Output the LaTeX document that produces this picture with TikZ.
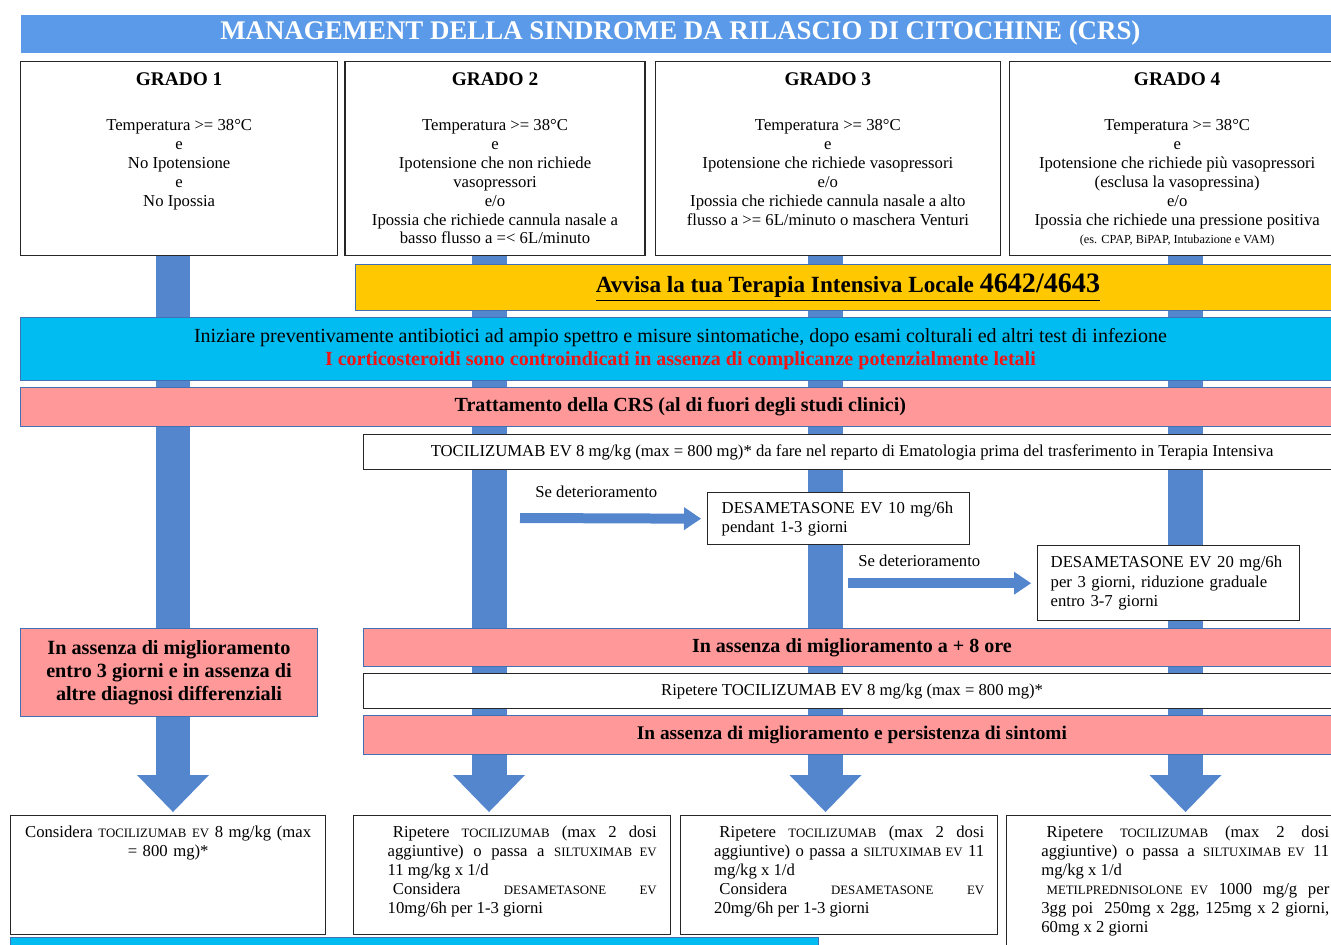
\documentclass[tikz,border=0pt]{standalone}
\usepackage{fontspec}
\setmainfont{Liberation Serif}
\usetikzlibrary{
    arrows.meta,
    positioning,
    backgrounds
}

\definecolor{titolo}{RGB}{91,154,232}
\definecolor{freccia}{RGB}{84,134,206}
\definecolor{bordo}{RGB}{65,113,180}
\definecolor{giallo}{RGB}{255,200,0}
\definecolor{ciano}{RGB}{0,188,240}
\definecolor{rosa}{RGB}{255,153,153}
\definecolor{rosso}{RGB}{240,20,20}

% drug names are set a bit smaller
\newcommand{\farmaco}[1]{{\fontsize{7.3}{8}\selectfont #1}}

\begin{document}
\begin{tikzpicture}[
        x=0.02cm, y=-0.02cm,
        fascia/.style={draw=bordo, line width=0.6pt, fill=#1, anchor=north west, inner sep=0pt, align=center},
        grado/.style={draw=black!85, line width=0.8pt, fill=white, minimum width=#1, minimum height=3.88cm},
        testo/.style={inner sep=0pt, align=center, font=\fontsize{9.5}{10.8}\selectfont},
        casella/.style={draw=black!85, line width=0.8pt, fill=white, anchor=north west, inner sep=0pt, minimum width=#1, font=\fontsize{9.5}{11}\selectfont},
        colonna/.style={draw=freccia, line width=0.7cm, -{Triangle[width=1.44cm, length=0.74cm, line width=0pt]}, shorten >=0.06cm},
        laterale/.style={draw=freccia, line width=0.2cm, -{Triangle[width=0.46cm, length=0.34cm, line width=0pt]}, shorten >=0.12cm}
    ]
        \useasboundingbox (0,0) rectangle (1331,944);
        \clip (0,0) rectangle (1331,944);

        % Title
        \node[fascia=titolo, draw=none, minimum width=26.4cm, minimum height=0.76cm, text=white, font=\bfseries\fontsize{15.3}{18}\selectfont] (titolo) at (20,14) {MANAGEMENT DELLA SINDROME DA RILASCIO DI CITOCHINE (CRS)};

        % Grades
        \node[grado=6.34cm, anchor=north west] (g1) at (20,61) {};
        \node[grado=6.0cm, right=0.12cm of g1] (g2) {};
        \node[grado=6.9cm, right=0.18cm of g2] (g3) {};
        \node[grado=6.7cm, right=0.16cm of g3] (g4) {};

        \node[testo, below=0.22cm of g1.north] (t1) {{\bfseries\fontsize{11}{13}\selectfont GRADO 1}\\[0.52cm]
            Temperatura >= 38°C\\e\\No Ipotensione\\e\\No Ipossia};
        \node[testo, below=0.22cm of g2.north] (t2) {{\bfseries\fontsize{11}{13}\selectfont GRADO 2}\\[0.52cm]
            Temperatura >= 38°C\\e\\Ipotensione che non richiede\\vasopressori\\e/o\\Ipossia che richiede cannula nasale a\\basso flusso a =< 6L/minuto};
        \node[testo, below=0.22cm of g3.north] (t3) {{\bfseries\fontsize{11}{13}\selectfont GRADO 3}\\[0.52cm]
            Temperatura >= 38°C\\e\\Ipotensione che richiede vasopressori\\e/o\\Ipossia che richiede cannula nasale a alto\\flusso a >= 6L/minuto o maschera Venturi};
        \node[testo, below=0.22cm of g4.north] (t4) {{\bfseries\fontsize{11}{13}\selectfont GRADO 4}\\[0.52cm]
            Temperatura >= 38°C\\e\\Ipotensione che richiede più vasopressori\\(esclusa la vasopressina)\\e/o\\Ipossia che richiede una pressione positiva\\
            {\fontsize{7}{8}\selectfont (es. CPAP, BiPAP, Intubazione e VAM)}};

        % Bands across the columns
        \node[fascia=giallo, minimum width=19.7cm, minimum height=0.92cm, font=\bfseries\fontsize{13.2}{15}\selectfont] (avviso) at (355,264)
            {\underline{Avvisa la tua Terapia Intensiva Locale {\fontsize{16}{18}\selectfont 4642/4643}}};
        \node[fascia=ciano, minimum width=26.4cm, minimum height=1.26cm, font=\fontsize{11.4}{13.6}\selectfont] (profilassi) at (20,317)
            {Iniziare preventivamente antibiotici ad ampio spettro e misure sintomatiche, dopo esami colturali ed altri test di infezione\\
            \textcolor{rosso}{\bfseries I corticosteroidi sono controindicati in assenza di complicanze potenzialmente letali}};
        \node[fascia=rosa, minimum width=26.4cm, minimum height=0.78cm, font=\bfseries\fontsize{11.4}{13}\selectfont] (trattamento) at (20,387)
            {Trattamento della CRS (al di fuori degli studi clinici)};
        \node[casella=19.54cm, minimum height=0.7cm] (toci) at (363,434)
            {TOCILIZUMAB EV 8 mg/kg (max = 800 mg)* da fare nel reparto di Ematologia prima del trasferimento in Terapia Intensiva};

        % Escalation with dexamethasone
        \node[casella=5.24cm, minimum height=1.04cm, text width=4.68cm, align=left, inner xsep=0.28cm] (desa1) at (707,492)
            {DESAMETASONE EV 10 mg/6h\\pendant 1-3 giorni};
        \node[casella=5.24cm, minimum height=1.5cm, text width=4.72cm, align=left, inner xsep=0.26cm] (desa2) at (1037,545)
            {DESAMETASONE EV 20 mg/6h\\per 3 giorni, riduzione graduale\\entro 3-7 giorni};
        \coordinate (d1) at (520,518);
        \coordinate (d2) at (848,0);
        \draw[laterale] (d1) -- (desa1.west);
        \draw[laterale] (d2 |- desa2.west) -- (desa2.west);
        \node[testo, anchor=west] (se1) at (535,492) {Se deterioramento};
        \node[testo, anchor=west] (se2) at (858,561) {Se deterioramento};

        % No improvement
        \node[fascia=rosa, minimum width=5.94cm, minimum height=1.76cm, font=\bfseries\fontsize{11.5}{13}\selectfont] (tregiorni) at (20,628)
            {In assenza di miglioramento\\entro 3 giorni e in assenza di\\altre diagnosi differenziali};
        \node[fascia=rosa, minimum width=19.54cm, minimum height=0.76cm, font=\bfseries\fontsize{11.4}{13}\selectfont] (ottore) at (363,628)
            {In assenza di miglioramento a + 8 ore};
        \node[casella=19.54cm, minimum height=0.7cm] (ripeti) at (363,673)
            {Ripetere TOCILIZUMAB EV 8 mg/kg (max = 800 mg)*};
        \node[fascia=rosa, minimum width=19.54cm, minimum height=0.78cm, font=\bfseries\fontsize{11}{13}\selectfont] (persiste) at (363,715)
            {In assenza di miglioramento e persistenza di sintomi};

        % Final steps
        \node[casella=6.3cm, minimum height=2.38cm] (b1) at (10,815) {};
        \node[casella=6.34cm, minimum height=2.38cm] (b2) at (353,815) {};
        \node[casella=6.34cm, minimum height=2.38cm] (b3) at (680,815) {};
        \node[casella=7.0cm, minimum height=2.8cm] (b4) at (1006,815) {};

        \node[testo, text width=6.1cm, below=0.22cm of b1.north] (e1)
            {Considera \farmaco{TOCILIZUMAB EV} 8 mg/kg (max\\= 800 mg)*};
        \node[testo, text width=5.38cm, align=justify, below=0.22cm of b2.north, xshift=0.2cm] (e2)
            {\hspace*{3pt}Ripetere \farmaco{TOCILIZUMAB} (max 2 dosi\linebreak aggiuntive) o passa a \farmaco{SILTUXIMAB EV}\linebreak 11 mg/kg x 1/d\\
            \hspace*{3pt}Considera \farmaco{DESAMETASONE EV}\linebreak 10mg/6h per 1-3 giorni};
        \node[testo, text width=5.4cm, align=justify, below=0.22cm of b3.north, xshift=0.2cm] (e3)
            {\hspace*{3pt}Ripetere \farmaco{TOCILIZUMAB} (max 2 dosi\linebreak aggiuntive) o passa a \farmaco{SILTUXIMAB EV} 11\linebreak mg/kg x 1/d\\
            \hspace*{3pt}Considera \farmaco{DESAMETASONE EV}\linebreak 20mg/6h per 1-3 giorni};
        \node[testo, text width=5.76cm, align=justify, anchor=north west] (e4) at (1041,826)
            {\hspace*{3pt}Ripetere \farmaco{TOCILIZUMAB} (max 2 dosi\linebreak aggiuntive) o passa a \farmaco{SILTUXIMAB EV} 11\linebreak mg/kg x 1/d\\
            \hspace*{3pt}\farmaco{METILPREDNISOLONE EV} 1000 mg/g per\linebreak 3gg poi\ \ 250mg x 2gg, 125mg x 2 giorni,\linebreak 60mg x 2 giorni};

        \node[fascia=ciano, minimum width=16.16cm, minimum height=0.5cm] (barra) at (10,937) {};

        % Column arrows behind the bands
        \coordinate (c1) at (173,0);
        \coordinate (c2) at (489,0);
        \coordinate (c3) at (825.5,0);
        \coordinate (c4) at (1185.5,0);
        \begin{scope}[on background layer]
            \draw[colonna] (c1 |- g1.south) -- (c1 |- b1.north);
            \draw[colonna] (c2 |- g2.south) -- (c2 |- b2.north);
            \draw[colonna] (c3 |- g3.south) -- (c3 |- b3.north);
            \draw[colonna] (c4 |- g4.south) -- (c4 |- b4.north);
        \end{scope}

    \end{tikzpicture}
\end{document}
